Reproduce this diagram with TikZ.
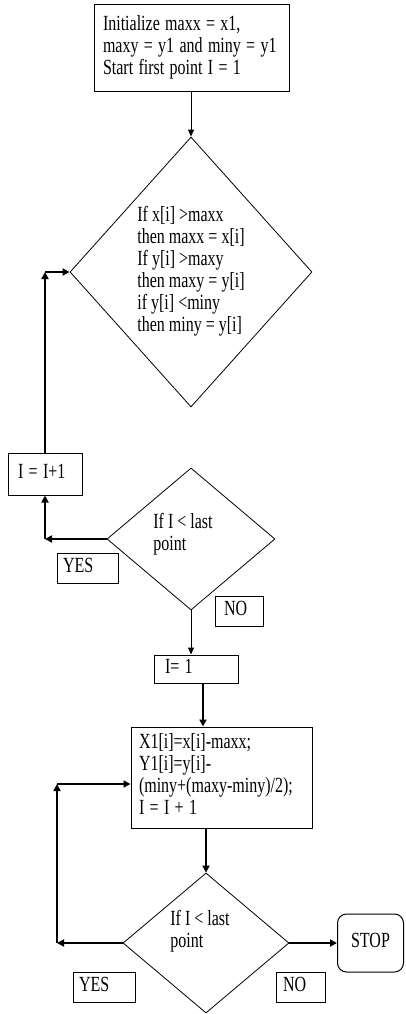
\documentclass[tikz,border=0pt]{standalone}
\usepackage{fontspec}
\setmainfont{Liberation Serif}
\usepackage{graphicx}
\usetikzlibrary{shapes.geometric,arrows.meta}
\newcommand\txt[1]{\scalebox{1}[1.35]{\begin{tabular}{@{}l@{}}#1\end{tabular}}}
\begin{document}
\begin{tikzpicture}[x=1pt,y=-1pt,
  every node/.style={font=\fontsize{16}{16.3}\selectfont},
  box/.style={draw, line width=1pt, inner ysep=0pt, align=left},
  dia/.style={draw, diamond, line width=0.8pt, inner sep=0pt},
  thinarrow/.style={line width=1pt, -{Triangle[length=7pt,width=6pt]}},
  thickarrow/.style={line width=2pt, -{Triangle[length=7pt,width=7pt]}},
]
\fill[white] (0,0) rectangle (406,1014);
\useasboundingbox (0,0) rectangle (406,1014);

% nodes
\node[box, minimum width=195pt, minimum height=87pt, text width=177pt, inner xsep=9pt] (top) at (191.5,48.5)
  {\txt{Initialize maxx = x1,\\maxy = y1 and miny = y1\\Start first point I = 1}};
\node[dia, minimum width=242pt, minimum height=270pt] (d1) at (191,272)
  {\txt{If x[i] >maxx\\then maxx = x[i]\\If y[i] >maxy\\then maxy = y[i]\\if y[i] <miny\\then miny = y[i]}};
\node[box, minimum width=74pt, minimum height=42pt, text width=54pt, inner xsep=10pt] (inc) at (45,474) {\txt{I = I+1}};
\node[dia, minimum width=168pt, minimum height=142pt] (d2) at (191,539) {};
\node (d2t) at (183,535) {\txt{If I < last\\point}};
\node[box, minimum width=61pt, minimum height=30pt, text width=49pt, inner xsep=6pt] (yes1) at (87.5,568) {\txt{YES}};
\node[box, minimum width=48pt, minimum height=30pt, text width=30pt, inner xsep=9pt] (no1) at (239,611) {\txt{NO}};
\node[box, minimum width=84pt, minimum height=28pt, text width=62pt, inner xsep=11pt] (i1) at (196,669) {\txt{I= 1}};
\node[box, minimum width=181pt, minimum height=101pt, text width=165pt, inner xsep=8pt] (bb) at (221.5,777.5)
  {\txt{X1[i]=x[i]-maxx;\\Y1[i]=y[i]-\\(miny+(maxy-miny)/2);\\I = I + 1}};
\node[dia, minimum width=166pt, minimum height=140pt] (d3) at (206,943) {};
\node (d3t) at (200,932) {\txt{If I < last\\point}};
\node[draw, line width=1pt, rounded corners=9pt, minimum width=66pt, minimum height=58pt, inner sep=0pt] (stop) at (370.5,943) {\txt{STOP}};
\node[box, minimum width=62pt, minimum height=30pt, text width=50pt, inner xsep=6pt] (yes2) at (104,987) {\txt{YES}};
\node[box, minimum width=49pt, minimum height=30pt, text width=35pt, inner xsep=7pt] (no2) at (300.5,987) {\txt{NO}};

% connectors
\draw[thinarrow] (top.south -| d1.north) -- (d1.north);
\coordinate (c1) at (inc.north |- d1.west);
\draw[thickarrow] (inc.north) -- (c1);
\draw[thickarrow] (c1) -- (d1.west);
\coordinate (c2) at (inc.south |- d2.west);
\draw[thickarrow] (d2.west) -- (c2);
\draw[thickarrow] (c2) -- (inc.south);
\draw[thinarrow] (d2.south) -- (d2.south |- i1.north);
\draw[thickarrow] ([xshift=7pt]i1.south) -- ([xshift=7pt]i1.south |- bb.north);
\draw[thickarrow] (d3.north |- bb.south) -- (d3.north);
\draw[thickarrow] (d3.east) -- (stop.west);
\coordinate (c3) at (57,943);
\coordinate (c4) at (57,784);
\draw[thickarrow] (d3.west) -- (c3);
\draw[thickarrow] (c3) -- (c4);
\draw[thickarrow] (c4) -- (c4 -| bb.west);
\end{tikzpicture}
\end{document}
